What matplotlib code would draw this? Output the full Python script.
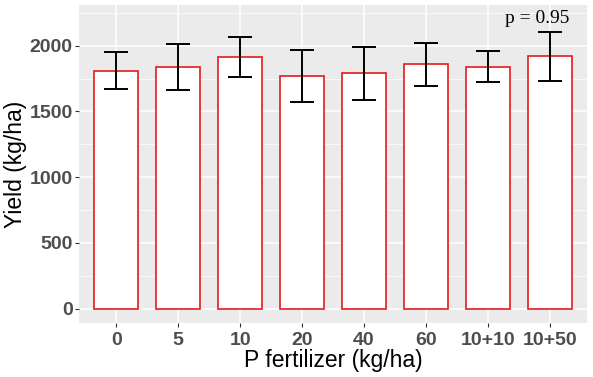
import numpy as np
import matplotlib
matplotlib.use("Agg")
import matplotlib.pyplot as plt
from matplotlib.ticker import MultipleLocator

# ---- data ----
treatments = ["0", "5", "10", "20", "40", "60", "10+10", "10+50"]
yield_mean = [1810, 1838, 1916, 1767, 1790, 1858, 1840, 1919]
yield_upper = [1954, 2010, 2068, 1967, 1988, 2023, 1960, 2103]
yield_lower = [1668, 1663, 1762, 1570, 1587, 1693, 1722, 1732]
p_label = "p = 0.95"

x = np.arange(1, len(treatments) + 1)
mean = np.array(yield_mean)
err = [mean - np.array(yield_lower), np.array(yield_upper) - mean]

plt.rcParams["font.family"] = ["Liberation Sans", "DejaVu Sans"]

fig = plt.figure(figsize=(5.93, 3.77), dpi=100)
ax = fig.add_axes([0.1332, 0.1432, 0.9899 - 0.1332, 0.9867 - 0.1432])
ax.set_facecolor("#EBEBEB")

ax.bar(x, mean, width=0.7, color="white", edgecolor="#E41A1C", linewidth=1.2, zorder=3)
ax.errorbar(x, mean, yerr=err, fmt="none", ecolor="black", elinewidth=1.4,
            capsize=8.6, capthick=1.4, zorder=4)

ax.text(8.32, 2210, p_label, ha="right", va="center", fontsize=14,
        family=["Liberation Serif", "DejaVu Serif"], zorder=5)

ax.set_xlim(0.4, 8.6)
ax.set_ylim(-109, 2309)
ax.set_xticks(x)
ax.set_xticklabels(treatments)
ax.yaxis.set_major_locator(MultipleLocator(500))
ax.yaxis.set_minor_locator(MultipleLocator(250))

ax.grid(which="major", color="white", linewidth=1.1, zorder=0)
ax.grid(which="minor", axis="y", color="white", linewidth=0.5, zorder=0)
ax.set_axisbelow(True)
for s in ax.spines.values():
    s.set_visible(False)

ax.tick_params(which="major", length=3, color="#333333", width=0.8,
               labelsize=14, labelcolor="#4D4D4D")
ax.tick_params(axis="y", pad=1.5)
ax.tick_params(axis="x", pad=3.5)
ax.tick_params(which="minor", length=0)
for lab in ax.get_xticklabels() + ax.get_yticklabels():
    lab.set_fontweight("bold")

ax.set_xlabel("P fertilizer (kg/ha)", fontsize=16.5)
ax.set_ylabel("Yield (kg/ha)", fontsize=16.5, va="center")
ax.yaxis.set_label_coords(-0.124, 0.5)
ax.xaxis.set_label_coords(0.5, -0.118)
ax.xaxis.label.set_va("center")

fig.savefig("out.png", dpi=100)
